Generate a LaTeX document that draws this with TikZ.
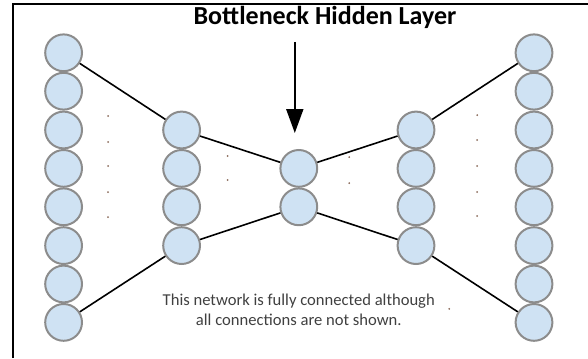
\documentclass[tikz,border=0pt]{standalone}
\usepackage{fontspec}
\setmainfont{Carlito}
\usepackage{xcolor}
\usepackage{tikz}
\usetikzlibrary{arrows.meta}
\definecolor{unitcolor}{HTML}{CFE2F3}
\definecolor{unitborder}{HTML}{8C8C8C}
\definecolor{dotcolor}{HTML}{8A6A5A}
\definecolor{notecolor}{HTML}{404040}
\tikzset{
  unit/.style={draw=unitborder, circle, line width=0.05cm, minimum size=0.92cm, inner sep=0pt, fill=unitcolor},
  link/.style={line width=0.04cm, black},
  skipdot/.style={circle, fill=dotcolor, minimum size=0.05cm, inner sep=0pt}
}

\begin{document}
\begin{tikzpicture}%
\useasboundingbox (0,0) rectangle (14.7,-8.95);%
\draw[line width=0.05cm] (0.3125,-8.95) -- (0.3125,-0.1125) -- (14.7,-0.1125);%
% input layer
\node[unit] (in1) at (1.59, -1.32) {};%
\node[unit] (in2) at (1.59, -2.28) {};%
\node[unit] (in3) at (1.59, -3.25) {};%
\node[unit] (in4) at (1.59, -4.21) {};%
\node[unit] (in5) at (1.59, -5.17) {};%
\node[unit] (in6) at (1.59, -6.14) {};%
\node[unit] (in7) at (1.59, -7.10) {};%
\node[unit] (in8) at (1.59, -8.06) {};%
% encoder layer
\node[unit] (enc1) at (4.54, -3.25) {};%
\node[unit] (enc2) at (4.54, -4.21) {};%
\node[unit] (enc3) at (4.54, -5.17) {};%
\node[unit] (enc4) at (4.54, -6.14) {};%
% bottleneck
\node[unit] (mid1) at (7.47, -4.21) {};%
\node[unit] (mid2) at (7.47, -5.17) {};%
% decoder layer
\node[unit] (dec1) at (10.40, -3.25) {};%
\node[unit] (dec2) at (10.40, -4.21) {};%
\node[unit] (dec3) at (10.40, -5.17) {};%
\node[unit] (dec4) at (10.40, -6.14) {};%
% output layer
\node[unit] (out1) at (13.35, -1.32) {};%
\node[unit] (out2) at (13.35, -2.28) {};%
\node[unit] (out3) at (13.35, -3.25) {};%
\node[unit] (out4) at (13.35, -4.21) {};%
\node[unit] (out5) at (13.35, -5.17) {};%
\node[unit] (out6) at (13.35, -6.14) {};%
\node[unit] (out7) at (13.35, -7.10) {};%
\node[unit] (out8) at (13.35, -8.06) {};%
% outer connections
\draw[link] (in1) -- (enc1) -- (mid1) -- (dec1) -- (out1);%
\draw[link] (in8) -- (enc4) -- (mid2) -- (dec4) -- (out8);%
% dots for the hidden connections
\node[skipdot] (d1) at (2.70, -2.90) {};%
\node[skipdot] (d2) at (2.70, -3.55) {};%
\node[skipdot] (d3) at (2.70, -4.15) {};%
\node[skipdot] (d4) at (2.70, -4.80) {};%
\node[skipdot] (d5) at (2.70, -5.43) {};%
\node[skipdot] (d6) at (5.69, -3.90) {};%
\node[skipdot] (d7) at (5.69, -4.50) {};%
\node[skipdot] (d8) at (8.73, -3.93) {};%
\node[skipdot] (d9) at (8.73, -4.58) {};%
\node[skipdot] (d10) at (11.93, -2.88) {};%
\node[skipdot] (d11) at (11.93, -3.50) {};%
\node[skipdot] (d12) at (11.93, -4.15) {};%
\node[skipdot] (d13) at (11.93, -4.80) {};%
\node[skipdot] (d14) at (11.93, -5.40) {};%
\node[skipdot] (d15) at (11.23, -7.72) {};%
% title and pointer
\node[anchor=base, inner sep=0pt, font=\fontsize{0.65cm}{0.78cm}\selectfont\bfseries] (title) at (8.125, -0.625) {Bottleneck Hidden Layer};%
\coordinate (pointer) at (7.37, -1.05);%
\coordinate (pointertip) at (7.37, -3.325);%
\draw[line width=0.05cm, -{Triangle[length=0.6cm, width=0.425cm]}] (pointer) -- (pointertip);%
% note
\node[anchor=base, inner sep=0pt, align=center, text=notecolor, font=\fontsize{0.415cm}{0.5cm}\selectfont] (note) at (7.47, -8.14) {This network is fully connected although\\all connections are not shown.};%
\end{tikzpicture}
\end{document}
